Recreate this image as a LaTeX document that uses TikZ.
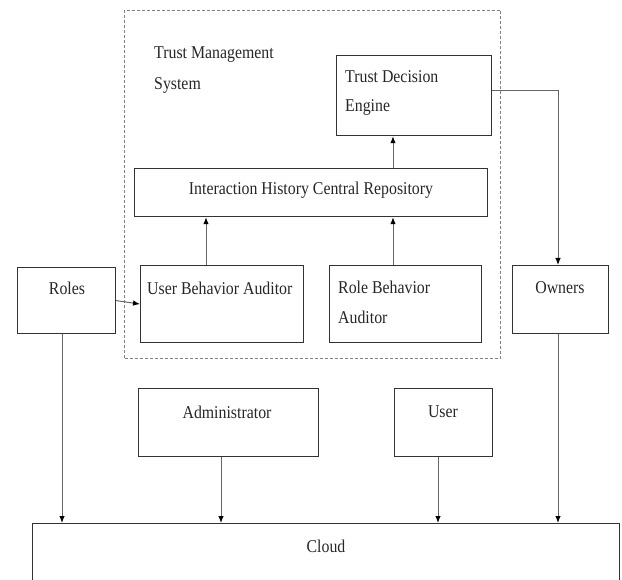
\documentclass[tikz,border=0pt]{standalone}
\usepackage{fontspec}
\setmainfont[FakeStretch=0.88]{Liberation Serif}
\usetikzlibrary{arrows.meta,calc}
\begin{document}
\begin{tikzpicture}[x=1pt,y=-1pt,
  box/.style={draw=black!80,line width=1.2pt,inner sep=0pt,anchor=north west},
  lbl/.style={font=\fontsize{18}{30}\selectfont,text=black!85,inner sep=0pt},
  arr/.style={draw=black!60,line width=1pt,-{Latex[length=7pt,width=5.5pt,color=black]}},
  tms/.style={draw=black!50,line width=1pt,dash pattern=on 3pt off 2pt}]
\useasboundingbox (0,0) rectangle (622,580);
% boxes
\node[tms,box,draw=black!50,line width=1pt,minimum width=376pt,minimum height=348pt] (tmsbox) at (124,10) {};
\node[box,minimum width=155pt,minimum height=80pt] (tde) at (336,55) {};
\node[box,minimum width=353pt,minimum height=48pt] (ihcr) at (134,168) {};
\node[box,minimum width=98pt,minimum height=66pt] (roles) at (17,267) {};
\node[box,minimum width=163pt,minimum height=77pt] (uba) at (140,265) {};
\node[box,minimum width=152pt,minimum height=77pt] (rba) at (329,265) {};
\node[box,minimum width=96pt,minimum height=68pt] (owners) at (512,265) {};
\node[box,minimum width=180pt,minimum height=68pt] (admin) at (138,388) {};
\node[box,minimum width=98pt,minimum height=68pt] (user) at (394,388) {};
\node[box,minimum width=587pt,minimum height=80pt] (cloud) at (32,523) {};
% texts
\node[lbl,anchor=west] (tmst1) at (154,55) {Trust Management};
\node[lbl,anchor=west] (tmst2) at (154,85) {System};
\node[lbl,anchor=west] (tdet1) at (345,77) {Trust Decision};
\node[lbl,anchor=west] (tdet2) at (345,107) {Engine};
\node[lbl] (ihcrt) at (311,190) {Interaction History Central Repository};
\node[lbl] (rolest) at (67,288) {Roles};
\node[lbl,anchor=west] (ubat) at (147,288) {User Behavior Auditor};
\node[lbl,anchor=west] (rbat1) at (338,287) {Role Behavior};
\node[lbl,anchor=west] (rbat2) at (338,317) {Auditor};
\node[lbl] (ownerst) at (560,288) {Owners};
\node[lbl] (admint) at (227,412) {Administrator};
\node[lbl] (usert) at (443,412) {User};
\node[lbl] (cloudt) at (326,546) {Cloud};
% x positions of connectors
\coordinate (xa) at (393,0);
\coordinate (xb) at (206,0);
\coordinate (xr) at (62,0);
\coordinate (xd) at (221,0);
\coordinate (xu) at (438,0);
\coordinate (xo) at (558,0);
\coordinate (yt) at (0,91);
% connectors
\draw[arr] (ihcr.north -| xa) -- (tde.south -| xa);
\draw[arr] (uba.north -| xb) -- (ihcr.south -| xb);
\draw[arr] (rba.north -| xa) -- (ihcr.south -| xa);
\draw[arr] (tde.east |- yt) -- (xo |- yt) -- (owners.north -| xo);
\draw[arr] (roles.east) -- (uba.west);
\draw[arr] (roles.south -| xr) -- (cloud.north -| xr);
\draw[arr] (admin.south -| xd) -- (cloud.north -| xd);
\draw[arr] (user.south -| xu) -- (cloud.north -| xu);
\draw[arr] (owners.south -| xo) -- (cloud.north -| xo);
\end{tikzpicture}
\end{document}
